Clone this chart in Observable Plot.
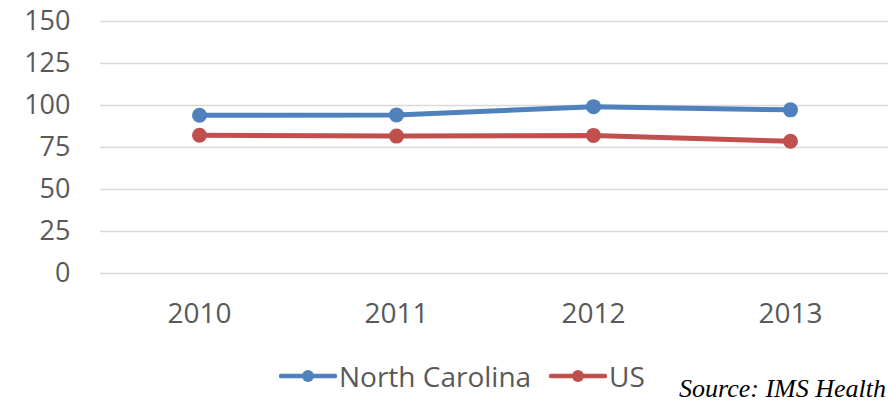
<!DOCTYPE html>
<html>
<head>
<meta charset="utf-8">
<script src="https://cdn.jsdelivr.net/npm/d3@7"></script>
<script src="https://cdn.jsdelivr.net/npm/@observablehq/plot@0.6"></script>
<style>
  html, body { margin: 0; padding: 0; background: #fff; }
  #wrap { position: relative; width: 888px; height: 402px; overflow: hidden; font-family: "Open Sans", "Liberation Sans", sans-serif; }
  #chart svg { display: block; }
  .leg { position: absolute; top: 358px; height: 36px; display: flex; align-items: center; font-size: 28px; color: #595959; }
  .leg svg { display: block; margin-right: 2px; }
  #source { position: absolute; left: 679px; top: 374px; font-family: "Liberation Serif", "DejaVu Serif", serif; font-style: italic; font-size: 26px; color: #000; white-space: nowrap; }
</style>
</head>
<body>
<div id="wrap">
  <div id="chart"></div>
  <div id="legend"></div>
  <div id="source">Source: IMS Health</div>
</div>
<script>
const years = ["2010", "2011", "2012", "2013"];
const northCarolina = [94.2, 94.4, 99.3, 97.4];
const us = [82.3, 81.8, 82.2, 78.7];
const seriesNames = ["North Carolina", "US"];
const seriesColors = ["#4F81BD", "#C0504D"];
const yTicks = [0, 25, 50, 75, 100, 125, 150];

const data = [
  ...years.map((y, i) => ({year: y, value: northCarolina[i], series: seriesNames[0]})),
  ...years.map((y, i) => ({year: y, value: us[i], series: seriesNames[1]}))
];

const chart = Plot.plot({
  width: 888,
  height: 345,
  marginLeft: 100,
  marginRight: 0,
  marginTop: 21,
  marginBottom: 72,
  style: {fontFamily: "'Open Sans', 'Liberation Sans', sans-serif", fontSize: "27px", color: "#595959", background: "#fff", overflow: "visible"},
  x: {type: "point", domain: years, padding: 0.5, label: null, tickSize: 0, tickPadding: 30},
  y: {domain: [0, 150], ticks: yTicks, label: null, tickSize: 0, tickPadding: 30},
  color: {domain: seriesNames, range: seriesColors},
  marks: [
    Plot.ruleY(yTicks, {stroke: "#d9d9d9", strokeWidth: 1.5, strokeOpacity: 1}),
    Plot.axisX({tickSize: 0, tickPadding: 30, fill: "#595959", fontSize: 28, label: null}),
    Plot.axisY({ticks: yTicks, tickSize: 0, tickPadding: 30, fill: "#595959", fontSize: 27, label: null}),
    Plot.line(data, {x: "year", y: "value", z: "series", stroke: "series", strokeWidth: 5, strokeLinecap: "round"}),
    Plot.dot(data, {x: "year", y: "value", fill: "series", r: 7.5, stroke: "none"})
  ]
});
document.getElementById("chart").appendChild(chart);

// legend
const legend = document.getElementById("legend");
const legendLefts = [279, 549];
seriesNames.forEach((name, i) => {
  const item = document.createElement("div");
  item.className = "leg";
  item.style.left = legendLefts[i] + "px";
  const ns = "http://www.w3.org/2000/svg";
  const sw = document.createElementNS(ns, "svg");
  sw.setAttribute("width", 58);
  sw.setAttribute("height", 20);
  const ln = document.createElementNS(ns, "line");
  ln.setAttribute("x1", 2); ln.setAttribute("x2", 56);
  ln.setAttribute("y1", 10); ln.setAttribute("y2", 10);
  ln.setAttribute("stroke", seriesColors[i]);
  ln.setAttribute("stroke-width", 4.5);
  ln.setAttribute("stroke-linecap", "round");
  const c = document.createElementNS(ns, "circle");
  c.setAttribute("cx", 29); c.setAttribute("cy", 10); c.setAttribute("r", 6);
  c.setAttribute("fill", seriesColors[i]);
  sw.appendChild(ln); sw.appendChild(c);
  item.appendChild(sw);
  const t = document.createElement("span");
  t.textContent = name;
  item.appendChild(t);
  legend.appendChild(item);
});
</script>
</body>
</html>
